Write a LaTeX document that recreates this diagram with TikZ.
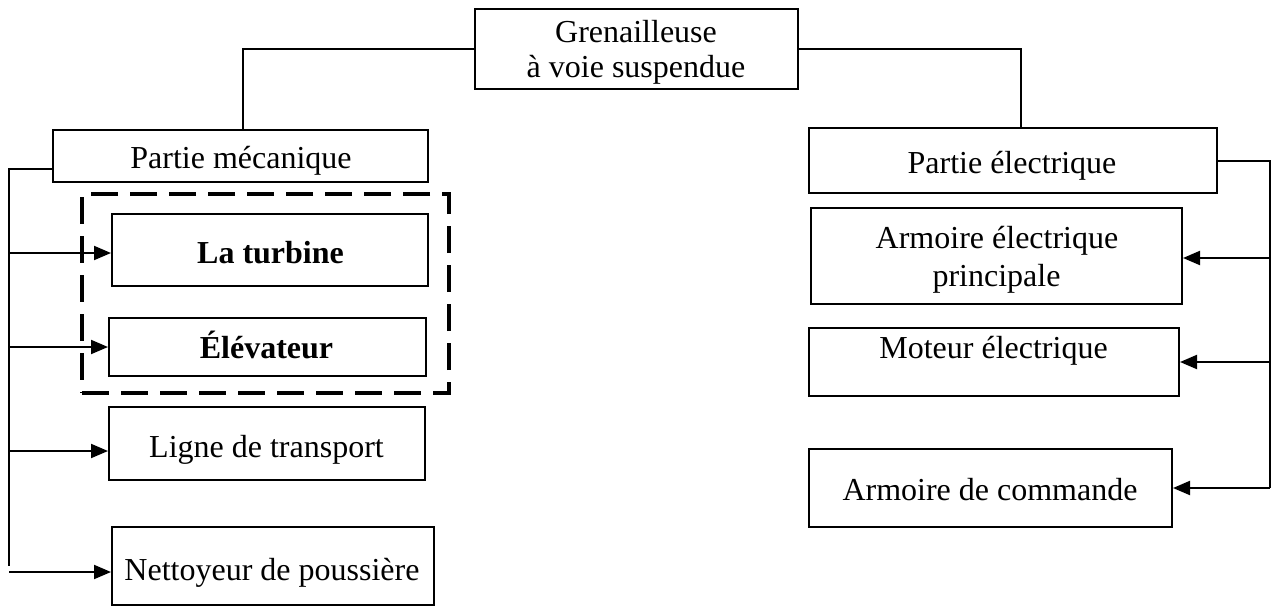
\documentclass[tikz,border=0pt]{standalone}
\usepackage{fontspec}
\setmainfont{Liberation Serif}
\usetikzlibrary{arrows.meta}
\begin{document}
\begin{tikzpicture}[x=1pt,y=-1pt,
  box/.style={draw, line width=2pt, rectangle, inner sep=0pt},
  grp/.style={draw, line width=3.2pt, rectangle, inner sep=0pt, dash pattern=on 27pt off 12pt},
  txt/.style={anchor=base, inner sep=0pt, font=\fontsize{32}{37}\selectfont},
  link/.style={line width=2pt},
  arr/.style={line width=2pt, -{Triangle[length=17pt,width=14pt]}}]
\useasboundingbox (0,0) rectangle (1272,608);

% root
\node[box, minimum width=323pt, minimum height=80pt] (root) at (636.5,49) {};
\node[txt] (root-t1) at (636,42) {Grenailleuse};
\node[txt] (root-t2) at (636,77) {à voie suspendue};

% mechanical branch
\node[box, minimum width=375pt, minimum height=52pt] (meca) at (240.5,156) {};
\node[txt] (meca-t) at (241,168) {Partie mécanique};
\node[grp, minimum width=367pt, minimum height=199pt] (group) at (265.5,293.5) {};
\node[box, minimum width=316pt, minimum height=72pt] (turb) at (270,250) {};
\node[txt, font=\fontsize{32}{37}\selectfont\bfseries] (turb-t) at (270.5,263) {La turbine};
\node[box, minimum width=317pt, minimum height=58pt] (elev) at (267.5,347) {};
\node[txt, font=\fontsize{32}{37}\selectfont\bfseries] (elev-t) at (266.5,358) {Élévateur};
\node[box, minimum width=316pt, minimum height=73pt] (ligne) at (267,443.5) {};
\node[txt] (ligne-t) at (266.5,457) {Ligne de transport};
\node[box, minimum width=322pt, minimum height=78pt] (nett) at (273,566) {};
\node[txt] (nett-t) at (272,580) {Nettoyeur de poussière};

% electrical branch
\node[box, minimum width=408pt, minimum height=65pt] (elec) at (1013,160.5) {};
\node[txt] (elec-t) at (1012,173) {Partie électrique};
\node[box, minimum width=371pt, minimum height=96pt] (aep) at (996.5,256) {};
\node[txt] (aep-t1) at (997,248) {Armoire électrique};
\node[txt] (aep-t2) at (996.5,286) {principale};
\node[box, minimum width=370pt, minimum height=68pt] (mot) at (994,362) {};
\node[txt] (mot-t) at (993.5,358) {Moteur électrique};
\node[box, minimum width=363pt, minimum height=78pt] (cmd) at (990.5,488) {};
\node[txt] (cmd-t) at (990,500) {Armoire de commande};

% root to the two parts
\coordinate (lj) at (243,49);
\coordinate (rj) at (1021,49);
\draw[link] (root.west) -- (lj) -- (lj |- meca.north);
\draw[link] (root.east) -- (rj) -- (rj |- elec.north);

% left trunk
\coordinate (ltop) at (9,169);
\coordinate (lbot) at (9,566);
\draw[link] (meca.west |- ltop) -- (ltop) -- (lbot);
\draw[arr] (ltop |- 0,253) -- (turb.west |- 0,253);
\draw[arr] (ltop |- elev.west) -- (elev.west);
\draw[arr] (ltop |- 0,451) -- (ligne.west |- 0,451);
\draw[arr] (ltop |- 0,572) -- (nett.west |- 0,572);

% right trunk
\coordinate (rtop) at (1270,161);
\coordinate (rbot) at (1270,488);
\draw[link] (elec.east |- rtop) -- (rtop) -- (rbot);
\draw[arr] (rtop |- 0,258) -- (aep.east |- 0,258);
\draw[arr] (rtop |- mot.east) -- (mot.east);
\draw[arr] (rbot) -- (cmd.east);
\end{tikzpicture}
\end{document}
